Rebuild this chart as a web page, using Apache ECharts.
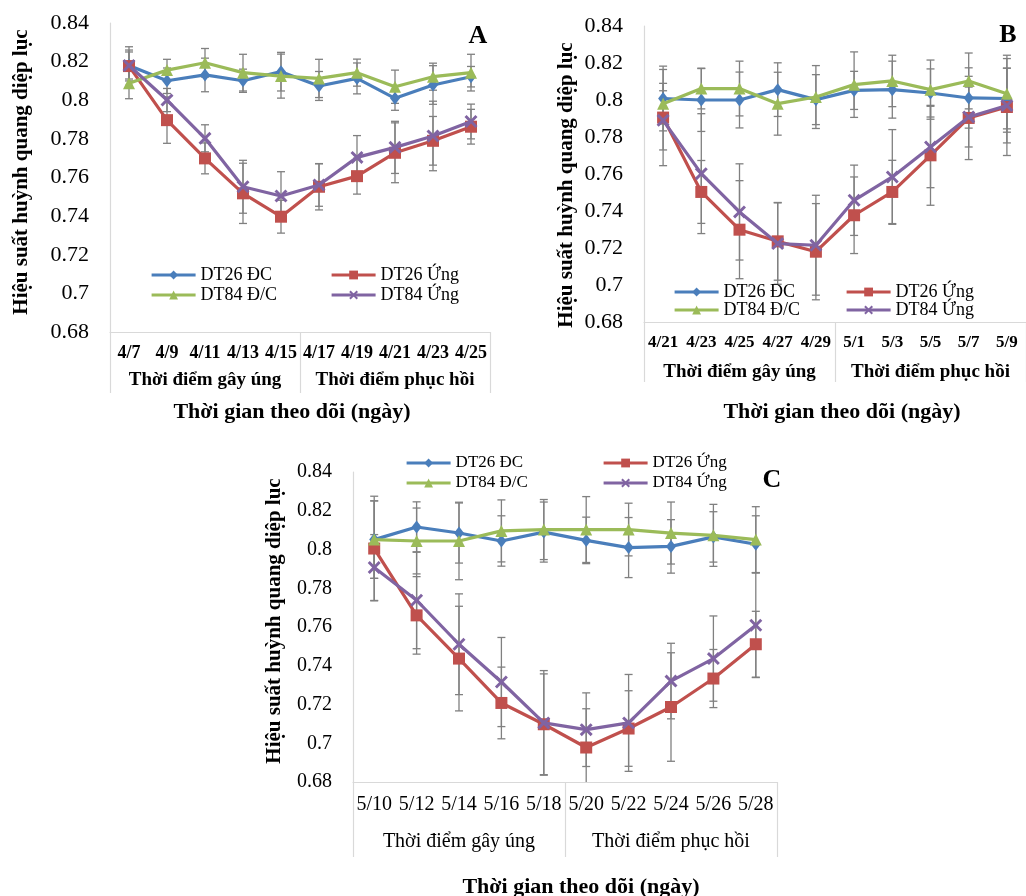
<!DOCTYPE html>
<html>
<head>
<meta charset="utf-8">
<script src="https://cdn.jsdelivr.net/npm/echarts@6/dist/echarts.min.js"></script>
<style>
html,body{margin:0;padding:0;background:#fff;}
#chart{width:1026px;height:896px;}
</style>
</head>
<body>
<div id="chart"></div>
<script>
// ---------- DATA ----------
const seriesNames = ['DT26 ĐC', 'DT26 Ứng', 'DT84 Đ/C', 'DT84 Ứng'];
const groupLabels = ['Thời điểm gây úng', 'Thời điểm phục hồi'];
const yTitle = 'Hiệu suất huỳnh quang diệp lục';
const xTitle = 'Thời gian theo dõi (ngày)';

// Panel A
const catsA = ['4/7', '4/9', '4/11', '4/13', '4/15', '4/17', '4/19', '4/21', '4/23', '4/25'];
const aDT26DC  = [0.818, 0.8101, 0.8131, 0.8101, 0.8148, 0.8074, 0.8113, 0.801, 0.8079, 0.8122];
const aDT26Ung = [0.8177, 0.7897, 0.7699, 0.7518, 0.7397, 0.7552, 0.7607, 0.7728, 0.779, 0.7863];
const aDT84DC  = [0.8088, 0.8156, 0.8194, 0.8143, 0.8125, 0.8113, 0.8143, 0.807, 0.8122, 0.8143];
const aDT84Ung = [0.818, 0.8001, 0.7803, 0.7552, 0.7504, 0.7561, 0.7704, 0.7756, 0.7815, 0.789];
const aErrDT26DC  = [0.007, 0.0066, 0.0087, 0.006, 0.01, 0.0075, 0.008, 0.0062, 0.01, 0.0053];
const aErrDT26Ung = [0.01, 0.012, 0.008, 0.0156, 0.0085, 0.012, 0.0093, 0.0155, 0.0126, 0.009];
const aErrDT84DC  = [0.008, 0.0056, 0.0074, 0.0095, 0.0114, 0.0099, 0.007, 0.0086, 0.007, 0.0095];
const aErrDT84Ung = [0.008, 0.006, 0.007, 0.0137, 0.0126, 0.011, 0.0113, 0.0135, 0.018, 0.009];

// Panel B
const catsB = ['4/21', '4/23', '4/25', '4/27', '4/29', '5/1', '5/3', '5/5', '5/7', '5/9'];
const bDT26DC  = [0.8008, 0.80, 0.80, 0.8056, 0.8002, 0.8052, 0.8056, 0.8038, 0.8011, 0.8008];
const bDT26Ung = [0.7905, 0.7503, 0.7299, 0.7236, 0.718, 0.7377, 0.7503, 0.7701, 0.7903, 0.7962];
const bDT84DC  = [0.798, 0.8062, 0.8062, 0.798, 0.8016, 0.8083, 0.8103, 0.8056, 0.8103, 0.8034];
const bDT84Ung = [0.789, 0.7602, 0.7395, 0.7224, 0.7215, 0.7458, 0.7584, 0.7746, 0.7908, 0.797];
const bErrDT26DC  = [0.0175, 0.017, 0.0151, 0.0145, 0.0135, 0.0103, 0.0154, 0.013, 0.0163, 0.0164];
const bErrDT26Ung = [0.026, 0.017, 0.0265, 0.021, 0.026, 0.0207, 0.0171, 0.027, 0.0225, 0.0262];
const bErrDT84DC  = [0.011, 0.011, 0.0148, 0.017, 0.017, 0.0177, 0.0139, 0.016, 0.0151, 0.0208];
const bErrDT84Ung = [0.016, 0.0324, 0.026, 0.022, 0.027, 0.019, 0.0256, 0.022, 0.0162, 0.0202];

// Panel C
const catsC = ['5/10', '5/12', '5/14', '5/16', '5/18', '5/20', '5/22', '5/24', '5/26', '5/28'];
const cDT26DC  = [0.8051, 0.8116, 0.8085, 0.8044, 0.809, 0.8047, 0.801, 0.8016, 0.8065, 0.8027];
const cDT26Ung = [0.8005, 0.766, 0.7437, 0.7208, 0.7098, 0.6978, 0.7076, 0.7187, 0.7334, 0.7511];
const cDT84DC  = [0.8051, 0.8044, 0.8044, 0.8096, 0.8103, 0.8103, 0.8103, 0.8085, 0.8073, 0.8051];
const cDT84Ung = [0.7907, 0.7738, 0.7511, 0.7316, 0.7105, 0.707, 0.7105, 0.7321, 0.7437, 0.7609];
const cErrDT26DC  = [0.02, 0.013, 0.0155, 0.013, 0.0155, 0.012, 0.0155, 0.0138, 0.013, 0.0147];
const cErrDT26Ung = [0.027, 0.02, 0.027, 0.0185, 0.026, 0.02, 0.0195, 0.028, 0.015, 0.017];
const cErrDT84DC  = [0.02, 0.017, 0.02, 0.016, 0.0155, 0.017, 0.0136, 0.016, 0.016, 0.017];
const cErrDT84Ung = [0.017, 0.025, 0.026, 0.023, 0.027, 0.019, 0.025, 0.0195, 0.022, 0.027];

const yMin = 0.68, yMax = 0.84, yStep = 0.02;

// ---------- STYLE ----------
const FONT = '"Liberation Serif", "Times New Roman", serif';
const COLORS = ['#4A7EBB', '#C0504D', '#9BBB59', '#8064A2'];
const X_PATH = 'path://M0,1.6L1.6,0L5,3.4L8.4,0L10,1.6L6.6,5L10,8.4L8.4,10L5,6.6L1.6,10L0,8.4L3.4,5Z';
const SYMBOLS = ['diamond', 'rect', 'triangle', X_PATH];
const SYM_SIZE = [[10, 13], 12, 12, 13];
const AXIS_GRAY = '#d9d9d9';

const panels = [
  { cats: catsA, vals: [aDT26DC, aDT26Ung, aDT84DC, aDT84Ung], errs: [aErrDT26DC, aErrDT26Ung, aErrDT84DC, aErrDT84Ung],
    grid: { left: 110, top: 23, width: 380, height: 309 }, yFont: 22, catFont: 18, catBold: true, catMargin: 12,
    grpFont: 19, grpBold: true, grpMargin: 39, tickLen: 61, legFont: 18, legTop: 266, legLine: 18, legGap: 2, legLeft: [150, 330] },
  { cats: catsB, vals: [bDT26DC, bDT26Ung, bDT84DC, bDT84Ung], errs: [bErrDT26DC, bErrDT26Ung, bErrDT84DC, bErrDT84Ung],
    grid: { left: 644, top: 26, width: 389, height: 296 }, yFont: 22, catFont: 17, catBold: true, catMargin: 12,
    grpFont: 19, grpBold: true, grpMargin: 41, tickLen: 60, legFont: 18, legTop: 283, legLine: 17, legGap: 0, legLeft: [673, 845] },
  { cats: catsC, vals: [cDT26DC, cDT26Ung, cDT84DC, cDT84Ung], errs: [cErrDT26DC, cErrDT26Ung, cErrDT84DC, cErrDT84Ung],
    grid: { left: 353, top: 472, width: 424, height: 310 }, yFont: 20, catFont: 20, catBold: false, catMargin: 13,
    grpFont: 20, grpBold: false, grpMargin: 50, tickLen: 75, legFont: 17, legTop: 454, legLine: 18, legGap: 2, legLeft: [405, 602] }
];

function renderErr(params, api) {
  const x = api.value(0), lo = api.value(1), hi = api.value(2);
  const p1 = api.coord([x, hi]);
  const p2 = api.coord([x, lo]);
  const w = 4;
  const st = { stroke: '#808080', lineWidth: 1.3 };
  return {
    type: 'group',
    children: [
      { type: 'line', shape: { x1: p1[0], y1: p1[1], x2: p2[0], y2: p2[1] }, style: st },
      { type: 'line', shape: { x1: p1[0] - w, y1: p1[1], x2: p1[0] + w, y2: p1[1] }, style: st },
      { type: 'line', shape: { x1: p2[0] - w, y1: p2[1], x2: p2[0] + w, y2: p2[1] }, style: st }
    ]
  };
}

const grids = [], xAxes = [], yAxes = [], series = [], legends = [];
panels.forEach((p, gi) => {
  grids.push(Object.assign({ containLabel: false }, p.grid));
  xAxes.push({
    type: 'category', gridIndex: gi, data: p.cats, position: 'bottom',
    axisLine: { show: false }, axisTick: { show: false },
    axisLabel: { interval: 0, margin: p.catMargin, color: '#000', fontFamily: FONT, fontSize: p.catFont, fontWeight: p.catBold ? 'bold' : 'normal' }
  });
  xAxes.push({
    type: 'category', gridIndex: gi, data: groupLabels, position: 'bottom',
    axisLine: { show: true, lineStyle: { color: AXIS_GRAY, width: 1.2 } },
    axisTick: { show: true, interval: 0, length: p.tickLen, lineStyle: { color: AXIS_GRAY, width: 1.2 } },
    axisLabel: { interval: 0, margin: p.grpMargin, color: '#000', fontFamily: FONT, fontSize: p.grpFont, fontWeight: p.grpBold ? 'bold' : 'normal' }
  });
  yAxes.push({
    type: 'value', gridIndex: gi, min: yMin, max: yMax, interval: yStep,
    axisLine: { show: true, lineStyle: { color: AXIS_GRAY, width: 1.2 } },
    axisTick: { show: false }, splitLine: { show: false },
    axisLabel: { margin: 21, color: '#000', fontFamily: FONT, fontSize: p.yFont, formatter: v => String(+v.toFixed(2)) }
  });
  seriesNames.forEach((name, si) => {
    series.push({
      type: 'custom', name: 'err-' + gi + '-' + si, xAxisIndex: gi * 2, yAxisIndex: gi, clip: true, z: 1,
      renderItem: renderErr, silent: true,
      data: p.vals[si].map((v, i) => [i, v - p.errs[si][i], v + p.errs[si][i]])
    });
  });
  seriesNames.forEach((name, si) => {
    series.push({
      type: 'line', name: name, xAxisIndex: gi * 2, yAxisIndex: gi, z: 3 + si,
      data: p.vals[si], symbol: SYMBOLS[si], symbolSize: SYM_SIZE[si], showSymbol: true,
      color: COLORS[si],
      lineStyle: { color: COLORS[si], width: 3.2 },
      itemStyle: { color: COLORS[si], borderColor: COLORS[si], borderWidth: 0 },
      animation: false
    });
  });
  [[0, 2], [1, 3]].forEach((cols, ci) => {
    legends.push({
      orient: 'vertical', left: p.legLeft[ci], top: p.legTop, itemGap: p.legGap,
      itemWidth: 44, itemHeight: 11, padding: 0,
      lineStyle: { width: 3.2 },
      data: cols.map(k => seriesNames[k]),
      textStyle: { fontFamily: FONT, fontSize: p.legFont, color: '#000', lineHeight: p.legLine }
    });
  });
});

const graphics = [
  { type: 'text', x: 478, y: 36, style: { text: 'A', font: 'bold 26px ' + FONT, fill: '#000', textAlign: 'center', textVerticalAlign: 'middle' } },
  { type: 'text', x: 1008, y: 35, style: { text: 'B', font: 'bold 26px ' + FONT, fill: '#000', textAlign: 'center', textVerticalAlign: 'middle' } },
  { type: 'text', x: 772, y: 480, style: { text: 'C', font: 'bold 26px ' + FONT, fill: '#000', textAlign: 'center', textVerticalAlign: 'middle' } },
  { type: 'text', x: 22, y: 172, rotation: Math.PI / 2, style: { text: yTitle, font: 'bold 21px ' + FONT, fill: '#000', textAlign: 'center', textVerticalAlign: 'middle' } },
  { type: 'text', x: 567, y: 185, rotation: Math.PI / 2, style: { text: yTitle, font: 'bold 21px ' + FONT, fill: '#000', textAlign: 'center', textVerticalAlign: 'middle' } },
  { type: 'text', x: 275, y: 621, rotation: Math.PI / 2, style: { text: yTitle, font: 'bold 21px ' + FONT, fill: '#000', textAlign: 'center', textVerticalAlign: 'middle' } },
  { type: 'text', x: 292, y: 412, style: { text: xTitle, font: 'bold 22px ' + FONT, fill: '#000', textAlign: 'center', textVerticalAlign: 'middle' } },
  { type: 'text', x: 842, y: 412, style: { text: xTitle, font: 'bold 22px ' + FONT, fill: '#000', textAlign: 'center', textVerticalAlign: 'middle' } },
  { type: 'text', x: 581, y: 887, style: { text: xTitle, font: 'bold 22px ' + FONT, fill: '#000', textAlign: 'center', textVerticalAlign: 'middle' } }
];

const chart = echarts.init(document.getElementById('chart'), null, { renderer: 'canvas' });
chart.setOption({
  backgroundColor: '#fff',
  animation: false,
  grid: grids,
  xAxis: xAxes,
  yAxis: yAxes,
  legend: legends,
  series: series,
  graphic: graphics
});
</script>
</body>
</html>
